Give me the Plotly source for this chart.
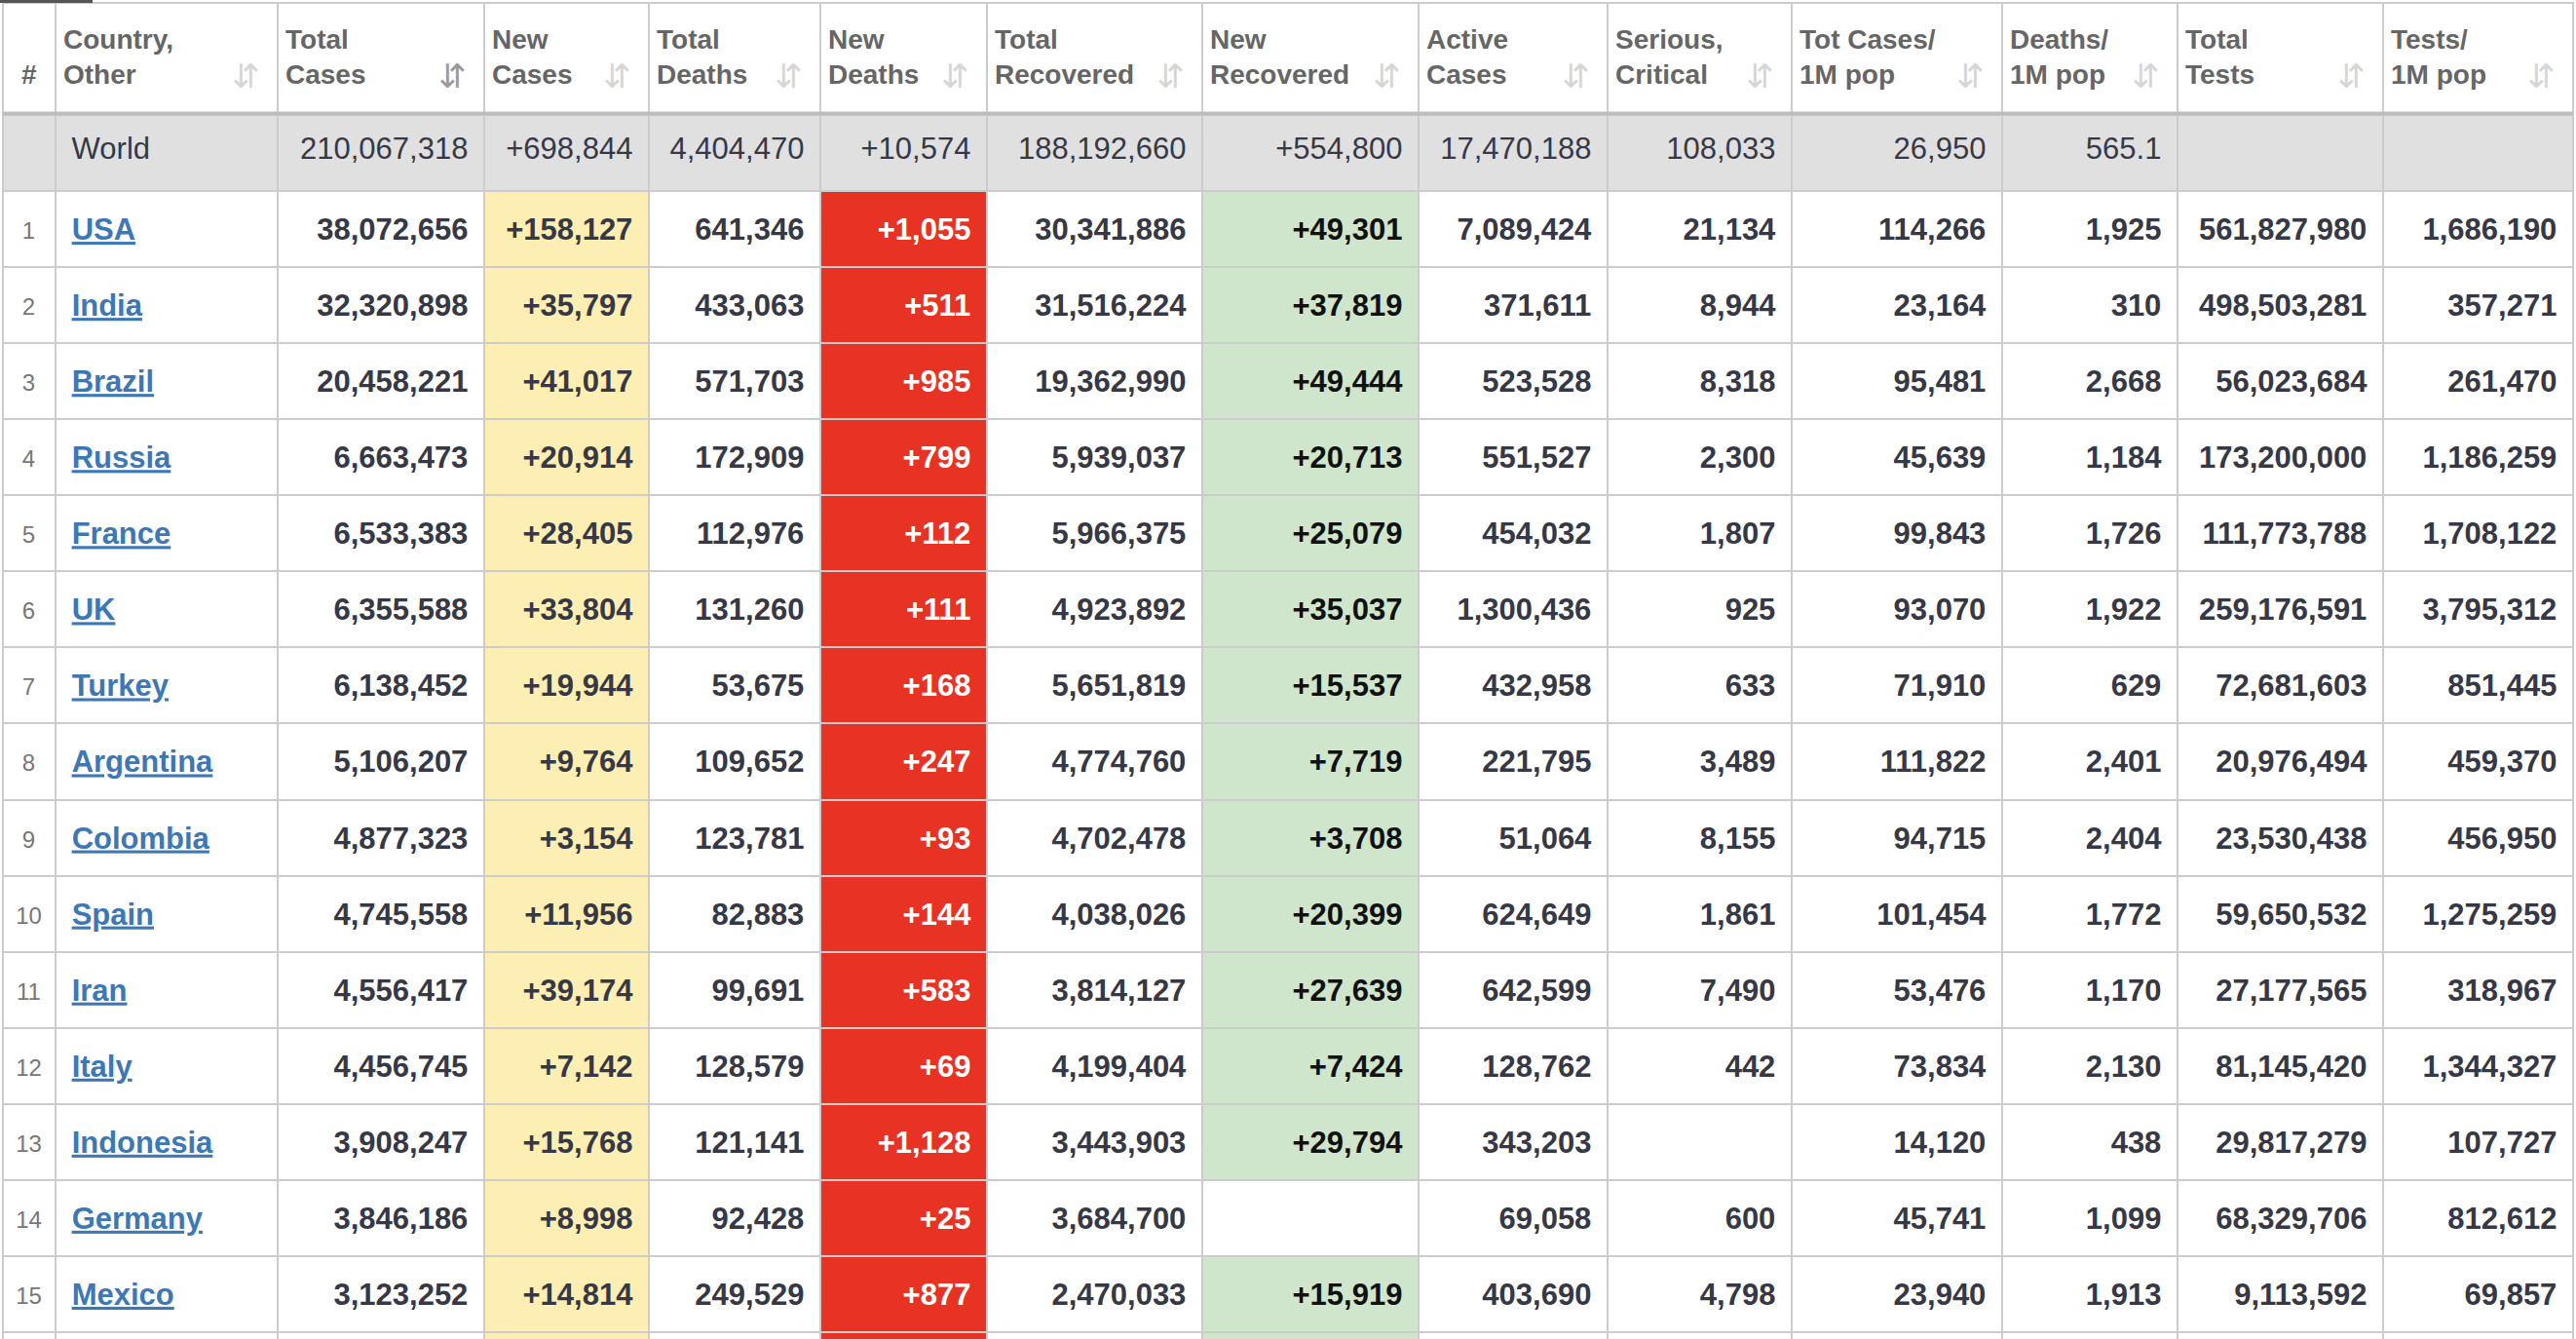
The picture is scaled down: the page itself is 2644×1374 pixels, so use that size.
import plotly.graph_objects as go

# worldometers-style covid table, 16 Aug 2021 snapshot
headers = ["#", "Country,<br>Other", "Total<br>Cases", "New<br>Cases", "Total<br>Deaths",
           "New<br>Deaths", "Total<br>Recovered", "New<br>Recovered", "Active<br>Cases",
           "Serious,<br>Critical", "Tot Cases/<br>1M pop", "Deaths/<br>1M pop",
           "Total<br>Tests", "Tests/<br>1M pop"]

rank = ["", "1", "2", "3", "4", "5", "6", "7", "8", "9", "10", "11", "12", "13", "14", "15"]
country = ["World", "USA", "India", "Brazil", "Russia", "France", "UK", "Turkey", "Argentina",
           "Colombia", "Spain", "Iran", "Italy", "Indonesia", "Germany", "Mexico"]
total_cases = ["210,067,318", "38,072,656", "32,320,898", "20,458,221", "6,663,473", "6,533,383",
               "6,355,588", "6,138,452", "5,106,207", "4,877,323", "4,745,558", "4,556,417",
               "4,456,745", "3,908,247", "3,846,186", "3,123,252"]
new_cases = ["+698,844", "+158,127", "+35,797", "+41,017", "+20,914", "+28,405", "+33,804",
             "+19,944", "+9,764", "+3,154", "+11,956", "+39,174", "+7,142", "+15,768", "+8,998",
             "+14,814"]
total_deaths = ["4,404,470", "641,346", "433,063", "571,703", "172,909", "112,976", "131,260",
                "53,675", "109,652", "123,781", "82,883", "99,691", "128,579", "121,141", "92,428",
                "249,529"]
new_deaths = ["+10,574", "+1,055", "+511", "+985", "+799", "+112", "+111", "+168", "+247", "+93",
              "+144", "+583", "+69", "+1,128", "+25", "+877"]
total_recovered = ["188,192,660", "30,341,886", "31,516,224", "19,362,990", "5,939,037",
                   "5,966,375", "4,923,892", "5,651,819", "4,774,760", "4,702,478", "4,038,026",
                   "3,814,127", "4,199,404", "3,443,903", "3,684,700", "2,470,033"]
new_recovered = ["+554,800", "+49,301", "+37,819", "+49,444", "+20,713", "+25,079", "+35,037",
                 "+15,537", "+7,719", "+3,708", "+20,399", "+27,639", "+7,424", "+29,794", "",
                 "+15,919"]
active_cases = ["17,470,188", "7,089,424", "371,611", "523,528", "551,527", "454,032",
                "1,300,436", "432,958", "221,795", "51,064", "624,649", "642,599", "128,762",
                "343,203", "69,058", "403,690"]
serious = ["108,033", "21,134", "8,944", "8,318", "2,300", "1,807", "925", "633", "3,489",
           "8,155", "1,861", "7,490", "442", "", "600", "4,798"]
cases_per_m = ["26,950", "114,266", "23,164", "95,481", "45,639", "99,843", "93,070", "71,910",
               "111,822", "94,715", "101,454", "53,476", "73,834", "14,120", "45,741", "23,940"]
deaths_per_m = ["565.1", "1,925", "310", "2,668", "1,184", "1,726", "1,922", "629", "2,401",
                "2,404", "1,772", "1,170", "2,130", "438", "1,099", "1,913"]
total_tests = ["", "561,827,980", "498,503,281", "56,023,684", "173,200,000", "111,773,788",
               "259,176,591", "72,681,603", "20,976,494", "23,530,438", "59,650,532",
               "27,177,565", "81,145,420", "29,817,279", "68,329,706", "9,113,592"]
tests_per_m = ["", "1,686,190", "357,271", "261,470", "1,186,259", "1,708,122", "3,795,312",
               "851,445", "459,370", "456,950", "1,275,259", "318,967", "1,344,327", "107,727",
               "812,612", "69,857"]

columns = [rank, country, total_cases, new_cases, total_deaths, new_deaths, total_recovered,
           new_recovered, active_cases, serious, cases_per_m, deaths_per_m, total_tests, tests_per_m]

col_px = [54, 228, 212, 169, 176, 171, 221, 222, 194, 189, 216, 180, 211, 195]

W, H = 2644, 1374
TEXT = "#363945"
GRID = "#cccccc"
WORLD_BG = "#e0e0e0"
highlight = {3: "#fdeeb3", 5: "#e83324", 7: "#cfe5cc"}
NB = "\u00a0"
FONT = "Liberation Sans, Arial, sans-serif"
HEAD_H = 115
ROW_H = 78.06
SHIFT = 14       # table text sits at the top of a cell; push it to the middle
SHIFT_RANK = 23  # smaller font in the # column needs a little more
CLEAR = "rgba(0,0,0,0)"

cell_text, fills, fcolors = [], [], []
for ci, col in enumerate(columns):
    txt, fc, tc = [], [], []
    for ri, v in enumerate(col):
        world = ri == 0
        if ci == 1:
            s = NB + v if world else NB + "<b><u>" + v + "</u></b>"
        elif ci == 0:
            s = v
        else:
            s = v + NB if world else "<b>" + v + "</b>" + NB
        txt.append(s)
        if world:
            fc.append(WORLD_BG)
        elif ci in highlight and v != "":
            fc.append(highlight[ci])
        else:
            fc.append("white")
        if world:
            tc.append(TEXT)
        elif ci == 1:
            tc.append("#3d78b5")
        elif ci == 5:
            tc.append("white")
        elif ci == 7:
            tc.append("#111111")
        else:
            tc.append(TEXT)
    # the next row is cut off by the bottom edge, only its fill shows
    fc.append(highlight.get(ci, "white"))
    cell_text.append(txt)
    fills.append(fc)
    fcolors.append(tc)

aligns = ["center", "left"] + ["right"] * (len(columns) - 2)
head_text = [("<b>" + h.replace("<br>", "</b><br><b>") + "</b>") if i else NB + "<br><b>#</b>"
             for i, h in enumerate(headers)]

x0, x1 = 3 / W, 2641 / W
y1 = 1 - 3 / H
tot = sum(col_px)
xr0 = x0 + (x1 - x0) * col_px[0] / tot

fig = go.Figure()
# grid + fills
fig.add_trace(go.Table(
    domain=dict(x=[x0, x1], y=[0, y1]),
    columnwidth=col_px,
    header=dict(values=[""] * len(headers), fill_color="white",
                line=dict(color=GRID, width=2), height=HEAD_H),
    cells=dict(values=[[""] * len(f) for f in fills], fill_color=fills,
               line=dict(color=GRID, width=2), height=ROW_H),
))
# text layer
fig.add_trace(go.Table(
    domain=dict(x=[x0, x1], y=[0, y1 - SHIFT / H]),
    columnwidth=col_px,
    header=dict(
        values=head_text,
        align=["center"] + ["left"] * (len(headers) - 1),
        fill_color=CLEAR,
        line=dict(color=CLEAR, width=0),
        font=dict(family=FONT, size=28, color="#666666"),
        height=HEAD_H,
    ),
    cells=dict(
        values=[[""] * len(rank)] + cell_text[1:],
        align=aligns,
        fill_color=CLEAR,
        line=dict(color=CLEAR, width=0),
        font=dict(family=FONT, size=31, color=fcolors),
        height=ROW_H,
    ),
))
# rank numbers, smaller and grey
fig.add_trace(go.Table(
    domain=dict(x=[x0, xr0], y=[0, y1 - SHIFT_RANK / H]),
    columnwidth=[col_px[0]],
    header=dict(values=[""], fill_color=CLEAR, line=dict(color=CLEAR, width=0), height=HEAD_H),
    cells=dict(values=[cell_text[0]], align="center", fill_color=CLEAR,
               line=dict(color=CLEAR, width=0),
               font=dict(family=FONT, size=24, color="#777777"), height=ROW_H),
))

# sort icons at the right of each header cell
edge = 0
for i, w in enumerate(col_px):
    edge += w
    if i == 0:
        continue
    xr = x0 + (x1 - x0) * edge / tot
    fig.add_annotation(
        x=xr - 16 / W, y=1 - 78 / H, xref="paper", yref="paper",
        xanchor="right", yanchor="middle", showarrow=False,
        text="⇵", font=dict(family="DejaVu Sans", size=34,
                            color="#9a9a9a" if i == 2 else "#d6d6d6"),
    )

fig.add_shape(type="line", xref="paper", yref="paper", x0=x0, x1=x1,
              y0=1 - 116.5 / H, y1=1 - 116.5 / H, line=dict(color="#bdbdbd", width=4))
fig.add_shape(type="rect", xref="paper", yref="paper", x0=0, x1=95 / W,
              y0=1 - 3 / H, y1=1, line_width=0, fillcolor="#555555")

fig.update_layout(width=W, height=H, margin=dict(l=0, r=0, t=0, b=0),
                  paper_bgcolor="white")
fig.write_html("out.html", config={"displayModeBar": False},
               post_script="document.body.style.margin='0px';"
                           "document.body.style.overflow='hidden';")
